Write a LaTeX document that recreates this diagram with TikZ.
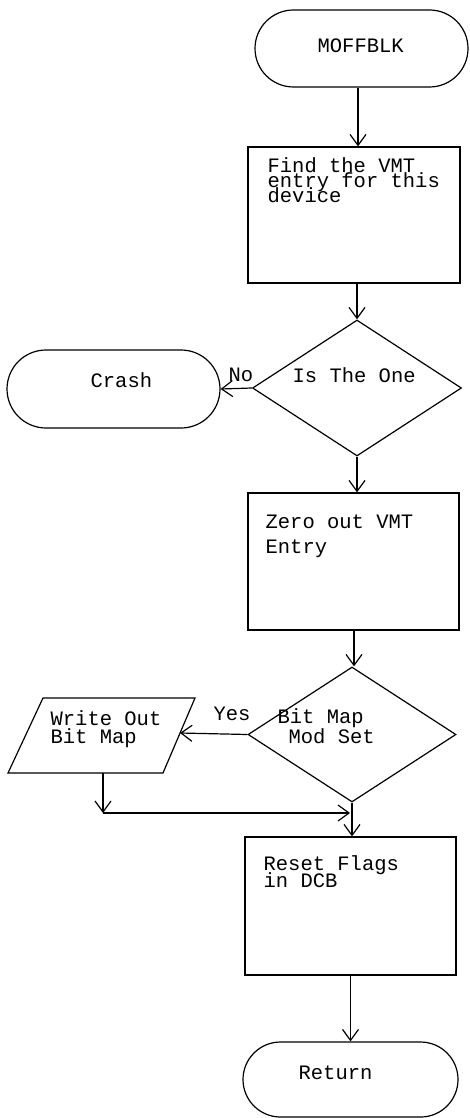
\documentclass[tikz,border=0pt]{standalone}
\usepackage{fontspec}
\newfontfamily\tw{Liberation Mono}
\newcommand\twfont[1]{\tw\fontsize{20.5pt}{#1}\selectfont\lineskiplimit=-30pt\relax}
\usetikzlibrary{arrows.meta,shapes.geometric,shapes.misc}
\tikzset{
  flow/.style={draw,line width=1.2pt},
  term/.style={flow,rounded rectangle,inner sep=0pt},
  procbox/.style={flow,rectangle,inner sep=0pt},
  decide/.style={flow,diamond,inner sep=0pt},
  txt/.style={inner sep=0pt,anchor=base west,align=left,font=\twfont{20pt}},
  conn/.style={draw,line width=1.2pt,-{Straight Barb[length=11pt,width=16pt,line width=1.2pt]}},
}
\begin{document}
\begin{tikzpicture}[x=1pt,y=-1pt,line width=1.2pt]
\useasboundingbox (0,0) rectangle (469,1118);
% shapes (multi-line texts are placed by the baseline of their last line)
\node[term,minimum width=213pt,minimum height=77pt] (start) at (361.5,48.5) {};
\node[txt] (tstart) at (317,53) {MOFFBLK};

\node[procbox,minimum width=212pt,minimum height=136pt] (b1) at (354,215) {};
\node[txt,font=\twfont{14.5pt}] (tb1) at (267,202) {Find the VMT\\entry for this\\device};

\node[decide,minimum width=209pt,minimum height=136pt] (d1) at (357,388) {};
\node[txt] (td1) at (292,382) {Is The One};

\node[term,minimum width=213pt,minimum height=78pt] (crash) at (113.5,389) {};
\node[txt] (tcrash) at (90,387) {Crash};

\node[procbox,minimum width=211pt,minimum height=137pt] (b2) at (353.5,561.5) {};
\node[txt,font=\twfont{25pt}] (tb2) at (265,553) {Zero out VMT\\Entry};

\node[decide,minimum width=208pt,minimum height=135pt] (d2) at (352,734.5) {};
\node[txt] (td2) at (277,743) {Bit Map\\\hspace*{11pt}Mod Set};

\coordinate (p1) at (8,773);
\coordinate (p2) at (43,698);
\coordinate (p3) at (195,698);
\coordinate (p4) at (163,773);
\draw (p1) -- (p2) -- (p3) -- (p4) -- cycle;
\coordinate (pr) at (180,733);
\coordinate (pb) at (103,773);
\node[txt,font=\twfont{18pt}] (tpar) at (50,743) {Write Out\\Bit Map};

\node[procbox,minimum width=211pt,minimum height=138pt] (b3) at (350.5,906) {};
\node[txt,font=\twfont{17pt}] (tb3) at (263,887) {Reset Flags\\in DCB};

\node[term,minimum width=215pt,minimum height=75pt] (ret) at (350.5,1079.5) {};
\node[txt] (tret) at (298,1079) {Return};

% connectors
\draw[conn] ([xshift=-3.5pt]start.south) -- ([xshift=4pt]b1.north);
\draw[conn] (b1.south -| d1.north) -- (d1.north);
\draw[conn] (d1.west) -- (crash.east);
\node[txt] (lno) at (228,381) {No};
\draw[conn] (d1.south) -- (d1.south |- b2.north);
\draw[conn] ([xshift=0.5pt]b2.south) -- ([xshift=2pt]d2.north);
\draw[conn] (d2.west) -- (pr);
\node[txt] (lyes) at (213,720) {Yes};
\coordinate (j1) at (103,813);
\coordinate (j2) at (350,813);
\draw[conn] (pb) -- (j1);
\draw[conn] (j1) -- (j2);
\draw[conn] (d2.south) -- (d2.south |- b3.north);
\draw[conn] (b3.south) -- (b3.south |- ret.north);
\end{tikzpicture}
\end{document}
